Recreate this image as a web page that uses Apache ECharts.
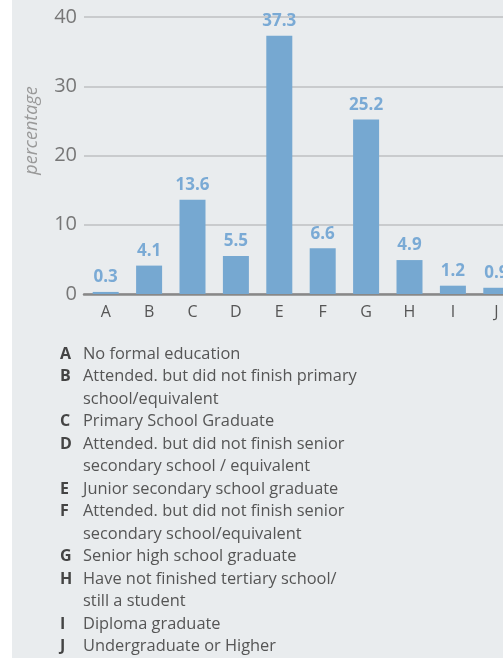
<!DOCTYPE html>
<html lang="en">

<head>
    <meta charset="UTF-8">
    <title>Education level</title>
    <script src="https://cdn.jsdelivr.net/npm/echarts@6/dist/echarts.min.js"></script>
    <style>
        html, body {
            margin: 0;
            padding: 0;
            overflow: hidden;
            width: 503px;
            height: 658px;
            background: linear-gradient(to right, #ffffff 12px, #e9ecee 12px);
        }

        #chart {
            position: absolute;
            left: 0;
            top: 0;
            width: 540px;
            height: 658px;
        }
    </style>
</head>

<body>
    <div id="chart"></div>

    <script>
        const categories = ["A", "B", "C", "D", "E", "F", "G", "H", "I", "J"];
        const values = [0.3, 4.1, 13.6, 5.5, 37.3, 6.6, 25.2, 4.9, 1.2, 0.9];
        const descriptions = [
            "No formal education",
            "Attended. but did not finish primary\nschool/equivalent",
            "Primary School Graduate",
            "Attended. but did not finish senior\nsecondary school / equivalent",
            "Junior secondary school graduate",
            "Attended. but did not finish senior\nsecondary school/equivalent",
            "Senior high school graduate",
            "Have not finished tertiary school/\nstill a student",
            "Diploma graduate",
            "Undergraduate or Higher"
        ];
        const yAxisName = "percentage";

        const FONT = "'Open Sans', 'Noto Sans', sans-serif";
        const LINE_H = 22.5;

        // legend below the chart, letter + wrapped text
        const legendItems = [];
        let row = 0;
        categories.forEach((c, i) => {
            const y = 343 + row * LINE_H;
            legendItems.push({
                type: "text",
                left: 60,
                top: y,
                style: { text: c, font: "bold 16px " + FONT, fill: "#444", lineHeight: LINE_H }
            });
            legendItems.push({
                type: "text",
                left: 83,
                top: y,
                style: { text: descriptions[i], font: "16.4px " + FONT, fill: "#555", lineHeight: LINE_H }
            });
            row += descriptions[i].split("\n").length;
        });

        const chart = echarts.init(document.getElementById("chart"));
        chart.setOption({
            backgroundColor: "transparent",
            animation: false,
            grid: { left: 84, right: 22, top: 17, bottom: 364 },
            xAxis: {
                type: "category",
                data: categories,
                axisLine: { lineStyle: { color: "#888", width: 2.5 } },
                axisTick: { show: false },
                axisLabel: { color: "#555", fontSize: 16, fontFamily: FONT, margin: 10 }
            },
            yAxis: {
                type: "value",
                min: 0,
                max: 40,
                interval: 10,
                name: yAxisName,
                nameLocation: "middle",
                nameGap: 43,
                nameRotate: 90,
                nameTextStyle: {
                    color: "#999", fontSize: 18, fontStyle: "italic", fontFamily: FONT,
                    padding: [0, 0, 0, 50]
                },
                axisLine: { show: false },
                axisTick: { show: false },
                axisLabel: { color: "#777", fontSize: 20, fontFamily: FONT, margin: 7 },
                splitLine: { lineStyle: { color: "#c9cbcd", width: 2 } }
            },
            series: [{
                type: "bar",
                data: values,
                barWidth: 26,
                itemStyle: { color: "#76a8d1" },
                label: {
                    show: true,
                    position: "top",
                    distance: 6,
                    color: "#7aaad5",
                    fontSize: 17,
                    fontWeight: "bold",
                    fontFamily: FONT
                }
            }],
            graphic: legendItems
        });
    </script>
</body>

</html>
